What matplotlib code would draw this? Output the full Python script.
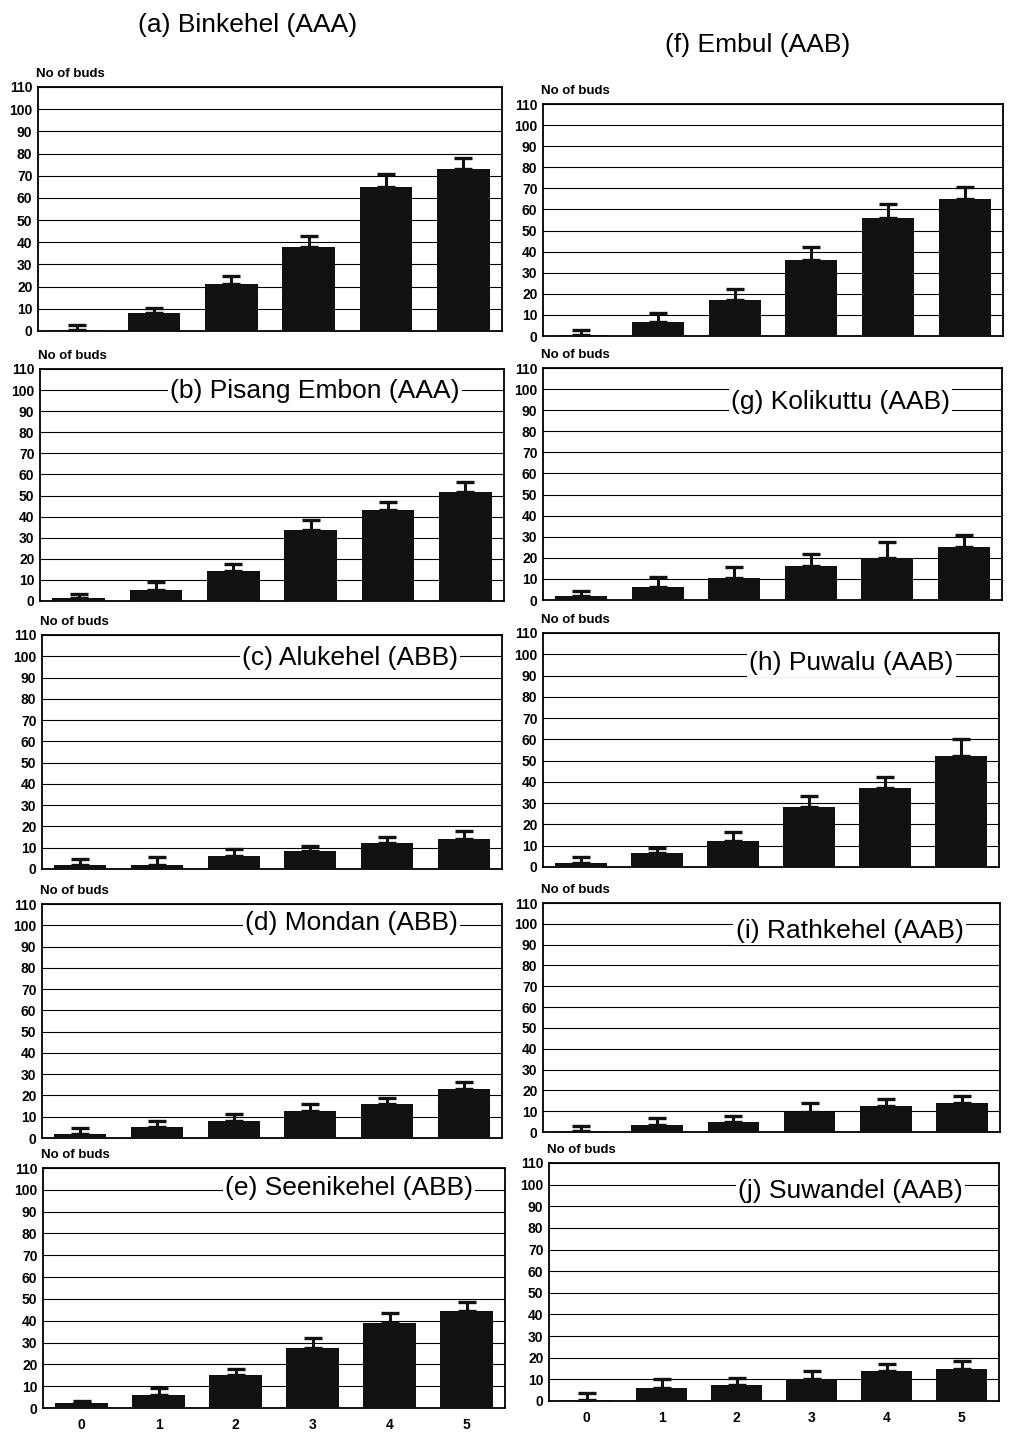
import matplotlib
matplotlib.use("Agg")
import matplotlib.pyplot as plt

W, H = 1013, 1433

categories = [0, 1, 2, 3, 4, 5]
tick_labels = ["0", "1", "2", "3", "4", "5"]

titles = ["(a) Binkehel (AAA)", "(b) Pisang Embon (AAA)", "(c) Alukehel (ABB)",
          "(d) Mondan (ABB)", "(e) Seenikehel (ABB)",
          "(f) Embul (AAB)", "(g) Kolikuttu (AAB)", "(h) Puwalu (AAB)",
          "(i) Rathkehel (AAB)", "(j) Suwandel (AAB)"]

vals_a = [0.5, 8, 21, 38, 65, 73]
err_a = [2, 2.5, 4, 5, 6, 5]
vals_b = [1.5, 5, 14, 33.5, 43, 51.5]
err_b = [2, 4, 3.5, 5, 4, 5]
vals_c = [1.8, 2, 6, 8.5, 12, 14]
err_c = [2.7, 3.5, 3.5, 2.5, 3, 4]
vals_d = [2, 5, 8, 12.5, 16, 23]
err_d = [2.5, 3, 3.5, 3.5, 3, 3.5]
vals_e = [2.5, 6, 15, 27.5, 39, 44.5]
err_e = [0.5, 3, 3, 4.5, 4.5, 4]
vals_f = [0.5, 6.5, 17, 36, 56, 65]
err_f = [2.5, 4.5, 5.5, 6, 6.5, 5.5]
vals_g = [2, 6, 10.5, 16, 20, 25]
err_g = [2.5, 5, 5, 6, 7.5, 6]
vals_h = [2, 6.5, 12, 28, 37, 52]
err_h = [2.5, 2.5, 4.5, 5.5, 5.5, 8]
vals_i = [0.5, 3.5, 5, 9.5, 12.5, 14]
err_i = [2.5, 3, 2.5, 4.5, 3.5, 3.5]
vals_j = [0.5, 6, 7.5, 10, 14, 15]
err_j = [3, 4, 3, 4, 3, 3.5]

values = [vals_a, vals_b, vals_c, vals_d, vals_e, vals_f, vals_g, vals_h, vals_i, vals_j]
errors = [err_a, err_b, err_c, err_d, err_e, err_f, err_g, err_h, err_i, err_j]

# axes boxes in pixels: left, right, top, bottom
boxes = [(38, 502, 87, 331), (40, 504, 369, 601), (42, 502, 635, 869),
         (42, 502, 904, 1138), (43, 505, 1168, 1408),
         (543, 1003, 104, 336), (543, 1002, 368, 600), (543, 999, 633, 867),
         (543, 1000, 903, 1132), (549, 999, 1163, 1401)]
# title placement (axes-x fraction right edge, data y)
title_pos = [None, (0.905, 99.5), (0.904, 99), (0.904, 101), (0.93, 101),
             None, (0.887, 94), (0.90, 96), (0.92, 96.5), (0.92, 97)]

plt.rcParams['font.family'] = ['Liberation Sans', 'DejaVu Sans']
fig = plt.figure(figsize=(W / 100, H / 100), dpi=100)
fig.patch.set_facecolor('white')

for k in range(10):
    l, r, t, b = boxes[k]
    ax = fig.add_axes([l / W, 1 - b / H, (r - l) / W, (b - t) / H])
    ax.set_xlim(-0.5, 5.5)
    ax.set_ylim(0, 110)
    ax.set_yticks(range(0, 111, 10))
    ax.yaxis.grid(True, color='black', linewidth=0.8)
    ax.set_axisbelow(True)
    ax.bar(categories, values[k], width=0.68, color='#111111', zorder=3)
    ax.errorbar(categories, values[k], yerr=[[0] * 6, errors[k]], fmt='none',
                ecolor='#111111', elinewidth=2.2, capsize=6.5, capthick=2.4, zorder=4)
    for s in ax.spines.values():
        s.set_linewidth(1.3)
        s.set_color('black')
    ax.tick_params(axis='both', length=0, pad=4)
    for lab in ax.get_yticklabels():
        lab.set_fontweight('bold')
        lab.set_fontsize(10)
    if k in (4, 9):
        ax.set_xticks(categories)
        ax.set_xticklabels(tick_labels, fontweight='bold', fontsize=10)
        ax.tick_params(axis='x', pad=7)
    else:
        ax.set_xticks([])
    ax.text(-0.005, 1.03, "No of buds", transform=ax.transAxes, ha='left',
            va='bottom', fontsize=9.5, fontweight='bold')
    if title_pos[k] is not None:
        xf, yv = title_pos[k]
        ax.text(xf, yv, titles[k], transform=ax.get_yaxis_transform(), ha='right',
                va='center', fontsize=19, zorder=5,
                bbox=dict(facecolor='white', edgecolor='none', pad=1.5))

fig.text(248 / W, 1 - 25 / H, titles[0], ha='center', va='center', fontsize=19)
fig.text(758 / W, 1 - 45 / H, titles[5], ha='center', va='center', fontsize=19)

fig.savefig("out.png", dpi=100, facecolor='white')
